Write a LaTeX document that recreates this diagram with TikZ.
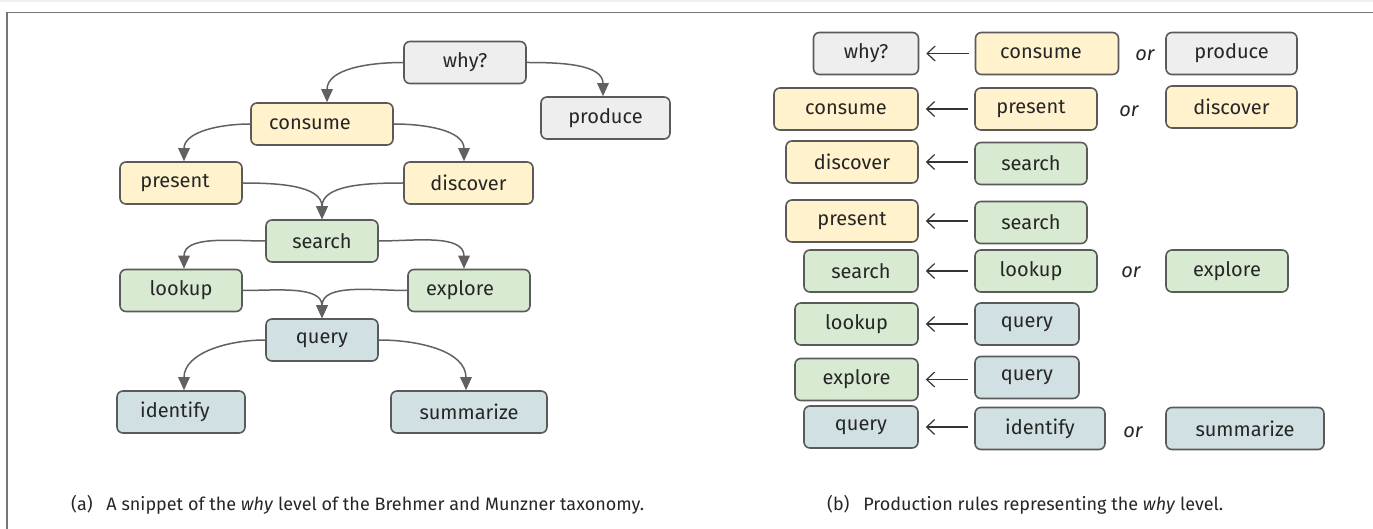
\documentclass[tikz,border=0pt]{standalone}
\usepackage{fontspec}
\setmainfont{Fira Sans}
\usetikzlibrary{arrows.meta}
\definecolor{cgray}{HTML}{EEEEEE}
\definecolor{cyel}{HTML}{FFF2CC}
\definecolor{cgrn}{HTML}{D9EAD3}
\definecolor{cblu}{HTML}{D0E0E3}
\definecolor{cedge}{HTML}{5A5A5A}
\definecolor{carrow}{HTML}{616161}
\definecolor{cframe}{HTML}{777777}
\begin{document}
\begin{tikzpicture}[x=1pt,y=-1pt,
  box/.style={draw=cedge, line width=1.6pt, rounded corners=6pt, minimum height=42pt,
    inner sep=0pt, font=\fontsize{20}{24}\selectfont, text=black!85},
  gbox/.style={box, fill=cgray},
  ybox/.style={box, fill=cyel},
  nbox/.style={box, fill=cgrn},
  bbox/.style={box, fill=cblu},
  flow/.style={draw=carrow, line width=1.5pt, -{Triangle[length=13pt,width=11.5pt]}},
  rulearrow/.style={draw=black!80, line width=1.2pt, {Straight Barb[length=8pt,width=15pt]}-},
  ortext/.style={font=\fontsize{20}{24}\selectfont\itshape, text=black!85, inner sep=0pt},
  captext/.style={anchor=west, inner sep=0pt, font=\fontsize{18}{22}\selectfont, text=black!85}]
\useasboundingbox (0,0) rectangle (1373,529);
% frame
\fill[gray!12] (0,0) rectangle (1373,2);
\draw[cframe, line width=1.5pt] (7,529) -- (7,12.5) -- (1373,12.5);

% ---------- left panel ----------
\node[gbox, minimum width=122pt] (why) at (465,62.5) {why?};
\node[gbox, minimum width=129pt] (produce) at (605.5,118) {produce};
\node[ybox, minimum width=142pt] (consume) at (322,124) {consume\hspace*{24pt}};
\node[ybox, minimum width=122pt] (present) at (181,183) {present\hspace*{12pt}};
\node[ybox, minimum width=129pt] (discover) at (468.5,183) {discover};
\node[nbox, minimum width=112pt] (search) at (322,241) {search};
\node[nbox, minimum width=122pt] (lookup) at (181,290.5) {lookup};
\node[nbox, minimum width=122pt] (explore) at (469,290.5) {explore\hspace*{18pt}};
\node[bbox, minimum width=112pt] (query) at (322,340) {query};
\node[bbox, minimum width=128pt] (identify) at (181,412) {identify\hspace*{12pt}};
\node[bbox, minimum width=156pt] (summarize) at (469,412) {summarize};

\draw[flow] (why.west) to[out=180,in=90] ([xshift=5pt]consume.north);
\draw[flow] (why.east) to[out=0,in=90] ([xshift=-2.5pt]produce.north);
\draw[flow] (consume.west) to[out=180,in=90] ([xshift=3pt]present.north);
\draw[flow] (consume.east) to[out=0,in=90] ([xshift=-4.5pt]discover.north);
\draw[flow] (present.east) to[out=0,in=90] (search.north);
\draw[flow] (discover.west) to[out=180,in=90] (search.north);
\draw[flow] (search.west) to[out=180,in=90] ([xshift=3pt]lookup.north);
\draw[flow] (search.east) to[out=0,in=90] ([xshift=-5pt]explore.north);
\draw[flow] (lookup.east) to[out=0,in=90] (query.north);
\draw[flow] (explore.west) to[out=180,in=90] (query.north);
\draw[flow] (query.west) to[out=180,in=90] ([xshift=3pt]identify.north);
\draw[flow] (query.east) to[out=0,in=90] ([xshift=-3pt]summarize.north);

\node[captext] (capa) at (71,505) {(a)\hspace{0.5em} A snippet of the \textit{why} level of the Brehmer and Munzner taxonomy.};

% ---------- right panel ----------
% row 1
\node[gbox, minimum width=105pt] (r1a) at (866,53.5) {why?};
\node[ybox, minimum width=143pt] (r1b) at (1047,53.5) {consume\hspace*{12pt}};
\node[ortext] (r1or) at (1145,55) {or};
\node[gbox, minimum width=131pt] (r1c) at (1231.5,53.5) {produce};
% row 2
\node[ybox, minimum width=144pt] (r2a) at (846,109) {consume};
\node[ybox, minimum width=122pt] (r2b) at (1036,109) {present\hspace*{10pt}};
\node[ortext] (r2or) at (1129,111) {or};
\node[ybox, minimum width=131pt] (r2c) at (1231.5,107) {discover};
% row 3
\node[ybox, minimum width=132pt] (r3a) at (852,162) {discover};
\node[nbox, minimum width=112pt] (r3b) at (1031,163.5) {search};
% row 4
\node[ybox, minimum width=132pt] (r4a) at (852,221) {present};
\node[nbox, minimum width=112pt] (r4b) at (1031,222.5) {search};
% row 5
\node[nbox, minimum width=114pt] (r5a) at (861,271) {search};
\node[nbox, minimum width=122pt] (r5b) at (1036,271) {lookup\hspace*{10pt}};
\node[ortext] (r5or) at (1131,272) {or};
\node[nbox, minimum width=122pt] (r5c) at (1227,271) {explore};
% row 6
\node[nbox, minimum width=123pt] (r6a) at (856.5,324) {lookup};
\node[bbox, minimum width=104pt] (r6b) at (1027,324) {query};
% row 7
\node[nbox, minimum width=123pt] (r7a) at (856.5,379.5) {explore};
\node[bbox, minimum width=104pt] (r7b) at (1027,377.5) {query};
% row 8
\node[bbox, minimum width=114pt] (r8a) at (861,427) {query};
\node[bbox, minimum width=130pt] (r8b) at (1040,428.5) {identify};
\node[ortext] (r8or) at (1133,432) {or};
\node[bbox, minimum width=158pt] (r8c) at (1245,428.5) {summarize};

\foreach \r in {1,...,8}{
  \draw[rulearrow, shorten <=7pt, shorten >=6pt] (r\r a.east) -- (r\r a.east -| r\r b.west);
}

\node[captext] (capb) at (827,505) {(b)\hspace{0.5em} Production rules representing the \textit{why} level.};
\end{tikzpicture}
\end{document}
